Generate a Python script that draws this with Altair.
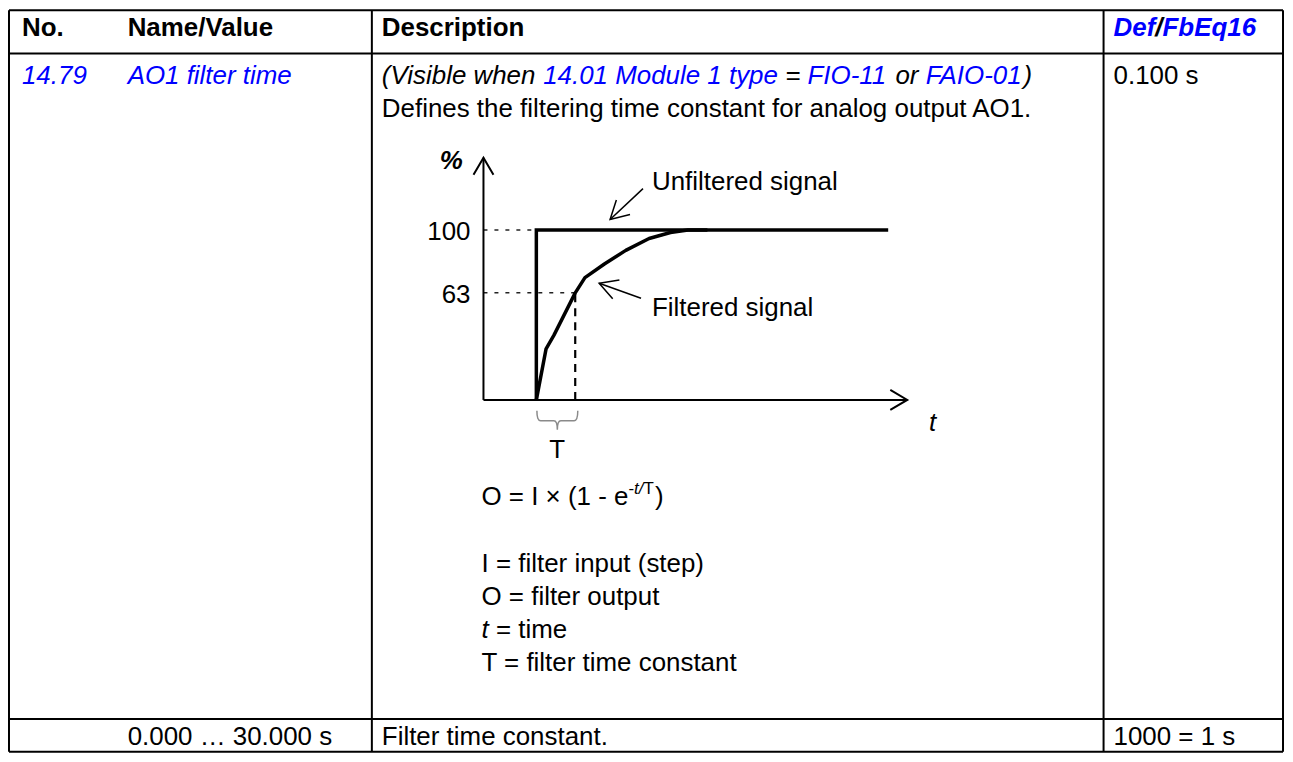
import math
import altair as alt
import pandas as pd

# ---------------- data ----------------
header_texts = ["No.", "Name/Value", "Description"]
header_def_parts = ["Def", "/", "FbEq16"]
header_def_is_link = [True, False, True]
param_number = "14.79"
param_name = "AO1 filter time"
visible_parts = ["(Visible when ", "14.01 Module 1 type", " = ", "FIO-11", " or ", "FAIO-01", ")"]
visible_is_link = [False, True, False, True, False, True, False]
description_text = "Defines the filtering time constant for analog output AO1."
default_text = "0.100 s"
range_row = ["0.000 … 30.000 s", "Filter time constant.", "1000 = 1 s"]

formula_main = "O = I × (1 - e"
formula_sup = ["-", "t/", "T"]
formula_sup_italic = [False, True, False]
formula_close = ")"
legend_parts = [
    [("I = filter input (step)", False)],
    [("O = filter output", False)],
    [("t", True), (" = time", False)],
    [("T = filter time constant", False)],
]
diagram_labels = ["%", "Unfiltered signal", "Filtered signal", "t", "T"]

# diagram series (time in units of T, output in %)
tick_values = [100, 63]
tick_labels = ["100", "63"]
unfiltered_t = [0, 0, 9.05]
unfiltered_pct = [0, 100, 100]
filtered_t = [0, 0.25, 0.45, 1.0, 1.25, 1.75, 2.3, 2.9, 3.45, 3.9, 4.4]
filtered_pct = [0, 30, 38, 63, 72, 80, 88, 95, 98.5, 100, 100]
T_value = 1.0
pct_at_T = 63
t_axis_start = -1.36
t_axis_end = 9.54
pct_axis_end = 142.5

# ---------------- layout / style ----------------
W, H = 1281, 746
OX, OY = 8, 8
FONT = "Liberation Sans"
FS = 26
BLUE = "#0000ff"
BLACK = "#000000"

REG_W = {' ': 278, '(': 333, ')': 333, '-': 333, '.': 278, '/': 278, '=': 584, '×': 584,
         '…': 1000, '%': 889,
         'A': 667, 'B': 667, 'C': 722, 'D': 722, 'E': 667, 'F': 611, 'G': 778, 'H': 722,
         'I': 278, 'M': 833, 'N': 722, 'O': 778, 'P': 667, 'S': 667, 'T': 611, 'U': 722,
         'V': 667, 'a': 556, 'b': 556, 'c': 500, 'd': 556, 'e': 556, 'f': 278, 'g': 556,
         'h': 556, 'i': 222, 'j': 222, 'k': 500, 'l': 222, 'm': 833, 'n': 556, 'o': 556,
         'p': 556, 'q': 556, 'r': 333, 's': 500, 't': 278, 'u': 556, 'v': 500, 'w': 722,
         'x': 500, 'y': 500, 'z': 500}
for _d in "0123456789":
    REG_W[_d] = 556
BOLD_W = dict(REG_W)
BOLD_W.update({'b': 611, 'd': 611, 'f': 333, 'g': 611, 'h': 611, 'i': 278, 'l': 278,
               'm': 889, 'n': 611, 'o': 611, 'p': 611, 'q': 611, 'r': 389, 's': 556,
               't': 333, 'u': 611, 'A': 722, 'B': 722})


def width_of(s, size=FS, bold=False):
    tbl = BOLD_W if bold else REG_W
    return sum(tbl.get(c, 556) for c in s) * size / 1000.0


texts = []


def add(x, y, s, color=BLACK, style="normal", size=FS):
    # SVG drops leading spaces: shift the start instead
    lead = len(s) - len(s.lstrip(" "))
    x = x + width_of(" " * lead, size, "bold" in style)
    s = s.strip(" ")
    if s:
        texts.append(dict(x=x, y=y, text=s, color=color, style=style, size=size))


# table columns (page pixels)
X_L, X_R, Y_T, Y_B = 9, 1287, 9, 753
X_DESC, X_DEF = 373, 1107
Y_HEAD, Y_LAST = 52.5, 720
TX1, TX2, TX3, TX4 = 22, 128, 383, 1117
BL_HEAD, BL_ROW1, BL_ROW1B, BL_LAST = 34.5, 83.5, 116.5, 746

for s, x in zip(header_texts, [TX1, TX2, TX3]):
    add(x, BL_HEAD, s, style="bold")
x = TX4
for s, link in zip(header_def_parts, header_def_is_link):
    add(x, BL_HEAD, s, BLUE if link else BLACK, "bolditalic")
    x += width_of(s, bold=True)

add(TX1, BL_ROW1, param_number, BLUE, "italic")
add(TX2, BL_ROW1, param_name, BLUE, "italic")
x = TX3
for s, link in zip(visible_parts, visible_is_link):
    add(x, BL_ROW1, s, BLUE if link else BLACK, "italic")
    x += width_of(s)
add(TX3, BL_ROW1B, description_text)
add(TX4, BL_ROW1, default_text)

# diagram text labels
add(441, 168, diagram_labels[0], style="bolditalic")
add(654, 189, diagram_labels[1])
add(654, 315.5, diagram_labels[2])
add(932, 431, diagram_labels[3], style="italic")
add(551, 458, diagram_labels[4])

# formula
x, yb = 483, 505
add(x, yb, formula_main)
x += width_of(formula_main)
for s, it in zip(formula_sup, formula_sup_italic):
    add(x, yb - 11, s, style="italic" if it else "normal", size=17)
    x += width_of(s, 17)
add(x + 1, yb, formula_close)
for i, parts in enumerate(legend_parts):
    x = 483
    for s, it in parts:
        add(x, 573 + 33 * i, s, style="italic" if it else "normal")
        x += width_of(s)

add(TX2, BL_LAST, range_row[0])
add(TX3, BL_LAST, range_row[1])
add(TX4, BL_LAST, range_row[2])

text_df = pd.DataFrame(texts)

PXX = alt.Scale(domain=[OX, OX + W], range=[0, W], nice=False, zero=False)
PXY = alt.Scale(domain=[OY, OY + H], range=[0, H], nice=False, zero=False)

table_lines = pd.DataFrame([
    dict(x=X_L, x2=X_R, y=Y_T, y2=Y_T),
    dict(x=X_L, x2=X_R, y=Y_HEAD, y2=Y_HEAD),
    dict(x=X_L, x2=X_R, y=Y_LAST, y2=Y_LAST),
    dict(x=X_L, x2=X_R, y=Y_B, y2=Y_B),
    dict(x=X_L, x2=X_L, y=Y_T, y2=Y_B),
    dict(x=X_DESC, x2=X_DESC, y=Y_T, y2=Y_B),
    dict(x=X_DEF, x2=X_DEF, y=Y_T, y2=Y_B),
    dict(x=X_R, x2=X_R, y=Y_T, y2=Y_B),
])

enc_px = dict(
    x=alt.X("x:Q", scale=PXX, axis=None),
    y=alt.Y("y:Q", scale=PXY, axis=None),
)

table_rules = alt.Chart(table_lines).mark_rule(color=BLACK, strokeWidth=2).encode(
    x2="x2:Q", y2="y2:Q", **enc_px)

# callout arrows (page pixels: tail -> tip)
callouts = [(645, 188, 612, 219), (643, 298, 601, 283)]
co_rows, co_heads = [], []
for tx, ty, hx, hy in callouts:
    co_rows.append(dict(x=tx, y=ty, x2=hx, y2=hy))
    ang = math.degrees(math.atan2(hx - tx, -(hy - ty))) % 360
    co_heads.append(dict(x=hx, y=hy, angle=ang))
CHEVRON = "M-1,1.8L0,0L1,1.8"
callout_lines = alt.Chart(pd.DataFrame(co_rows)).mark_rule(color=BLACK, strokeWidth=1.5).encode(
    x2="x2:Q", y2="y2:Q", **enc_px)
callout_heads = alt.Chart(pd.DataFrame(co_heads)).mark_point(
    shape=CHEVRON, filled=False, stroke=BLACK, strokeWidth=1.5, size=400, opacity=1
).encode(angle=alt.Angle("angle:Q", scale=None), **enc_px)

text_layers = []
for style, fstyle, fweight in [("normal", "normal", "normal"), ("italic", "italic", "normal"),
                               ("bold", "normal", "bold"), ("bolditalic", "italic", "bold")]:
    sub = text_df[text_df["style"] == style]
    if len(sub) == 0:
        continue
    text_layers.append(
        alt.Chart(sub).mark_text(align="left", baseline="alphabetic", font=FONT,
                                 fontStyle=fstyle, fontWeight=fweight).encode(
            text="text:N",
            color=alt.Color("color:N", scale=None),
            size=alt.Size("size:Q", scale=None),
            **enc_px)
    )

table_group = alt.layer(table_rules, callout_lines, callout_heads, *text_layers)

# ---------------- diagram in data units ----------------
TS = alt.Scale(domain=[0, 1], range=[538 - OX, 577 - OX], nice=False, zero=False)
PS = alt.Scale(domain=[0, 100], range=[400 - OY, 229.5 - OY], nice=False, zero=False)
enc_d = dict(
    x=alt.X("t:Q", scale=TS, axis=None),
    y=alt.Y("p:Q", scale=PS, axis=None),
)

axes_df = pd.DataFrame([
    dict(t=t_axis_start, t2=t_axis_end, p=0, p2=0),
    dict(t=t_axis_start, t2=t_axis_start, p=0, p2=pct_axis_end),
])
axes_rules = alt.Chart(axes_df).mark_rule(color=BLACK, strokeWidth=2).encode(
    x2="t2:Q", y2="p2:Q", **enc_d)
heads_df = pd.DataFrame([
    dict(t=t_axis_start, p=pct_axis_end, angle=0),
    dict(t=t_axis_end, p=0, angle=90),
])
axes_heads = alt.Chart(heads_df).mark_point(
    shape="M-1,1.7L0,0L1,1.7", filled=False, stroke=BLACK, strokeWidth=2, size=400, opacity=1
).encode(angle=alt.Angle("angle:Q", scale=None), **enc_d)

dotted_df = pd.DataFrame([
    dict(t=t_axis_start, t2=0, p=tick_values[0], p2=tick_values[0]),
    dict(t=t_axis_start, t2=T_value, p=tick_values[1], p2=tick_values[1]),
])
dotted = alt.Chart(dotted_df).mark_rule(color="#222222", strokeWidth=1.5, strokeDash=[4, 7]).encode(
    x2="t2:Q", y2="p2:Q", **enc_d)

dashed_df = pd.DataFrame([dict(t=T_value, t2=T_value, p=0, p2=pct_at_T)])
dashed = alt.Chart(dashed_df).mark_rule(color=BLACK, strokeWidth=2.2, strokeDash=[8, 6]).encode(
    x2="t2:Q", y2="p2:Q", **enc_d)

unf_df = pd.DataFrame(dict(t=unfiltered_t, p=unfiltered_pct, i=range(len(unfiltered_t))))
unf = alt.Chart(unf_df).mark_line(color=BLACK, strokeWidth=3.5, strokeJoin="miter").encode(
    order="i:Q", **enc_d)
fil_df = pd.DataFrame(dict(t=filtered_t, p=filtered_pct, i=range(len(filtered_t))))
fil = alt.Chart(fil_df).mark_line(color=BLACK, strokeWidth=3.5, strokeJoin="round").encode(
    order="i:Q", **enc_d)

BRACE = "M-1,-0.49Q-1,0 -0.82,0L-0.17,0Q0,0 0,0.44Q0,0 0.17,0L0.82,0Q1,0 1,-0.49"
brace_df = pd.DataFrame([dict(t=T_value / 2 + 0.04, p=-12.3)])
brace = alt.Chart(brace_df).mark_point(
    shape=BRACE, filled=False, stroke="#8a8a8a", strokeWidth=1.5, size=1681, opacity=1
).encode(**enc_d)

ticks_df = pd.DataFrame(dict(t=[t_axis_start] * len(tick_values), p=tick_values, label=tick_labels))
ticks = alt.Chart(ticks_df).mark_text(align="right", baseline="middle", font=FONT,
                                      fontSize=FS, dx=-13, dy=2, color=BLACK).encode(
    text="label:N", **enc_d)

diagram_group = alt.layer(dotted, dashed, axes_rules, axes_heads, unf, fil, brace, ticks)

chart = alt.layer(table_group, diagram_group).resolve_scale(
    x="independent", y="independent"
).properties(
    width=W, height=H, padding=0, autosize=alt.AutoSizeParams(type="none"),
    background="white",
).configure_view(stroke=None)

chart.save("out.html", embed_options={"renderer": "svg", "actions": False})
